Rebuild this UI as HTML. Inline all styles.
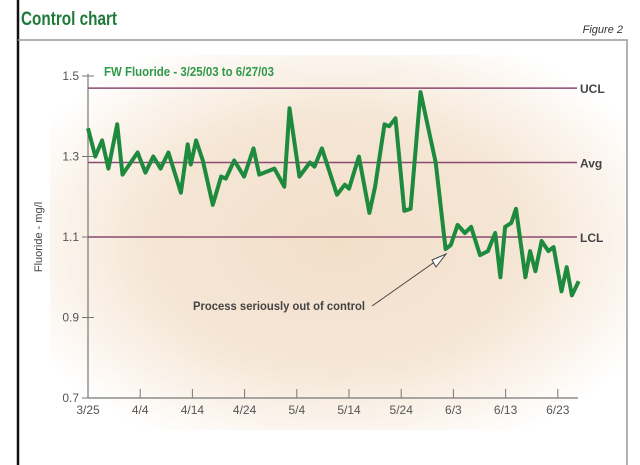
<!DOCTYPE html>
<html><head><meta charset="utf-8"><style>
body{margin:0;background:#fff;}
svg{display:block;font-family:"Liberation Sans Narrow","Liberation Sans",sans-serif;}
</style></head><body>
<svg width="640" height="465" viewBox="0 0 640 465">
<defs>
<radialGradient id="glow" cx="0.5" cy="0.5" r="0.6">
<stop offset="0" stop-color="#f2dfca"/><stop offset="0.55" stop-color="#f5e6d5"/><stop offset="0.85" stop-color="#fcf6f0"/><stop offset="1" stop-color="#ffffff"/>
</radialGradient>
</defs>
<rect x="0" y="0" width="640" height="465" fill="#fff"/>
<rect x="50" y="55" width="575" height="375" fill="url(#glow)"/>
<line x1="18" y1="0" x2="18" y2="465" stroke="#111" stroke-width="2.5"/>
<polyline points="18,40 627,40 627,465" fill="none" stroke="#999" stroke-width="1.5"/>
<text x="21" y="25" font-size="19" fill="#1f7a3a" font-weight="bold" textLength="96" lengthAdjust="spacingAndGlyphs">Control chart</text>
<text x="623" y="33" font-size="11" font-style="italic" fill="#333" text-anchor="end">Figure 2</text>
<text x="104" y="76" font-size="13" font-weight="bold" fill="#2e9a4a" textLength="170" lengthAdjust="spacingAndGlyphs">FW Fluoride - 3/25/03 to 6/27/03</text>
<text transform="translate(42,237) rotate(-90)" font-size="11" fill="#444" text-anchor="middle">Fluoride - mg/l</text>
<g id="axes"></g>
<g id="marks"></g>
</svg>
<script>
const yTicks=[0.7,0.9,1.1,1.3,1.5];
const xTickLabels=["3/25","4/4","4/14","4/24","5/4","5/14","5/24","6/3","6/13","6/23"];
const xTickDays=[0,10,20,30,40,50,60,70,80,90];
const limits=[{name:"UCL",value:1.47},{name:"Avg",value:1.285},{name:"LCL",value:1.10}];
const days=[0,1.4,2.7,3.9,5.6,6.6,9.5,11,12.5,13.9,15.4,17.8,19.1,19.7,20.7,22,23.9,25.5,26.4,28,29.9,31.7,32.8,35.7,37.6,38.6,40.5,42.5,43.4,44.8,47.7,49.2,50,51.9,53.9,55,56.8,57.7,58.9,60.6,61.8,63.7,66.6,68.5,69.5,70.8,72.2,73.4,75.1,76.6,78,79,79.9,81.1,82,83.8,84.7,85.7,86.9,88.2,89.2,90.7,91.7,92.7,94];
const values=[1.37,1.30,1.34,1.27,1.38,1.255,1.31,1.26,1.30,1.27,1.31,1.21,1.33,1.28,1.34,1.29,1.18,1.25,1.245,1.29,1.25,1.32,1.255,1.27,1.225,1.42,1.25,1.285,1.275,1.32,1.205,1.23,1.22,1.30,1.16,1.225,1.38,1.375,1.395,1.165,1.17,1.46,1.285,1.07,1.08,1.13,1.11,1.125,1.055,1.065,1.11,1.00,1.125,1.135,1.17,1.00,1.065,1.015,1.09,1.065,1.075,0.965,1.025,0.955,0.99];
const NS="http://www.w3.org/2000/svg";
const X=d=>88+d*5.22;
const Y=v=>398-(v-0.7)*(322/0.8);
function mk(tag,attrs,parent,txt){const e=document.createElementNS(NS,tag);for(const k in attrs)e.setAttribute(k,attrs[k]);if(txt!==undefined)e.textContent=txt;parent.appendChild(e);return e;}
const ax=document.getElementById('axes'),mg=document.getElementById('marks');
let e=mk('line',{x1:88,y1:Y(1.5)-2,x2:88,y2:398,stroke:'#777','stroke-width':1.2},ax);


e=mk('line',{x1:88,y1:398,x2:578,y2:398,stroke:'#777','stroke-width':1.2},ax);


yTicks.forEach(t=>{
 const l=mk('line',{x1:82,y1:Y(t),x2:94,y2:Y(t),stroke:'#777','stroke-width':1},ax);
 
 
 const tx=mk('text',{x:79,y:Y(t)+4,'font-size':12,fill:'#555','text-anchor':'end'},ax,t.toFixed(1));
 
 
});
xTickDays.forEach((d,i)=>{
 if(i>0){const l=mk('line',{x1:X(d),y1:389,x2:X(d),y2:398,stroke:'#777','stroke-width':1},ax);
 
 }
 const tx=mk('text',{x:X(d),y:414,'font-size':12,fill:'#555','text-anchor':'middle'},ax,xTickLabels[i]);
 
 
});
limits.forEach(L=>{
 const l=mk('line',{x1:88,y1:Y(L.value),x2:577,y2:Y(L.value),stroke:'#8a4a72','stroke-width':1.5},mg);
 
 
 const tx=mk('text',{x:580,y:Y(L.value)+5,'font-size':12,'font-weight':'bold',fill:'#444'},mg,L.name);
 
 
});
const pts=days.map((d,i)=>X(d).toFixed(1)+','+Y(values[i]).toFixed(1)).join(' ');
const pl=mk('polyline',{points:pts,fill:'none',stroke:'#1e8a3e','stroke-width':4,'stroke-linejoin':'round'},mg);


const ar=mk('line',{x1:372,y1:306,x2:446,y2:254,stroke:'#444','stroke-width':1},mg);


const ah=mk('polygon',{points:'446,254 432,260 436,267',fill:'#fff',stroke:'#444','stroke-width':1},mg);


const at=mk('text',{x:193,y:310,'font-size':12,'font-weight':'bold',fill:'#444',textLength:172,lengthAdjust:'spacingAndGlyphs'},mg,'Process seriously out of control');


</script>
</body></html>
